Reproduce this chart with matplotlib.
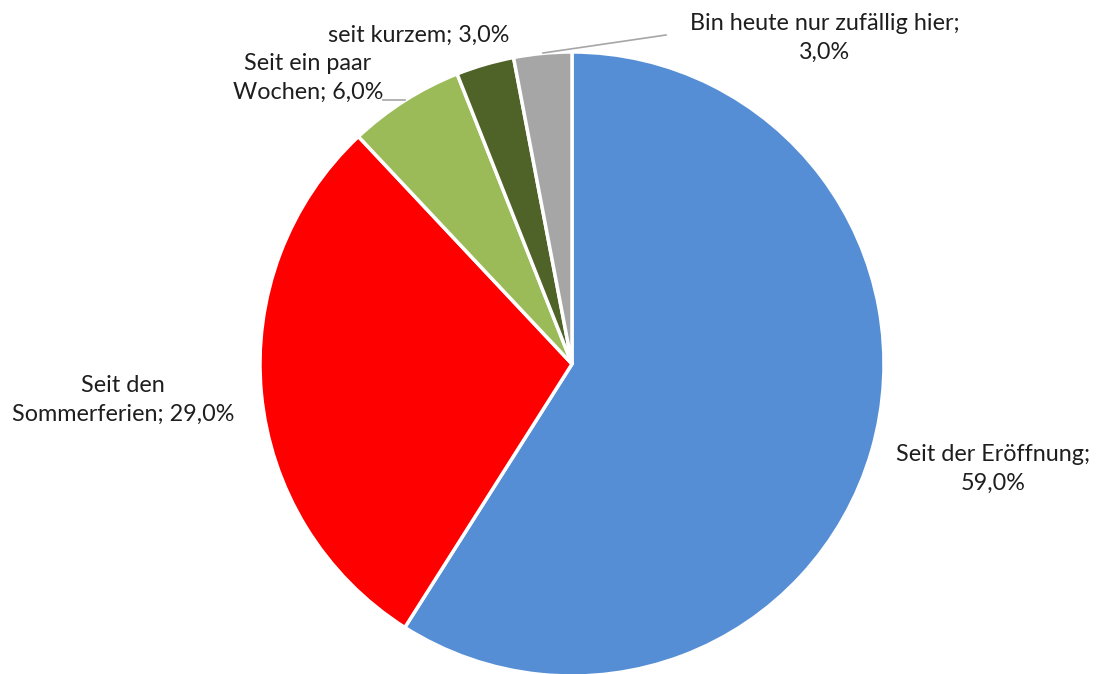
import matplotlib.pyplot as plt

# Antworten auf "Seit wann kommen Sie?"
labels = ["Seit der Eröffnung", "Seit den Sommerferien", "Seit ein paar Wochen",
          "seit kurzem", "Bin heute nur zufällig hier"]
shares = [59.0, 29.0, 6.0, 3.0, 3.0]
colors = ["#558ED5", "#FF0000", "#9BBB59", "#4F6228", "#A6A6A6"]

W, H = 1098, 674
plt.rcParams['font.family'] = ['Lato', 'DejaVu Sans']

fig = plt.figure(figsize=(W / 100, H / 100), dpi=100)
ax = fig.add_axes([0, 0, 1, 1])

ax.pie(shares, colors=colors, startangle=90, counterclock=False,
       center=(572, H - 364), radius=312,
       wedgeprops=dict(edgecolor='white', linewidth=2.5))
ax.set_xlim(0, W)
ax.set_ylim(0, H)
ax.set_aspect('equal')
ax.axis('off')

def pct(v):
    return f"{v:.1f}".replace('.', ',') + "%"

fs = 16.8
tc = "#1e1e1e"
ls = 1.45
# Beschriftungen (Position in Pixeln, y von oben)
ax.text(993, H - 469, f"{labels[0]};\n{pct(shares[0])}", ha='center', va='center',
        fontsize=fs, color=tc, linespacing=ls)
ax.text(123, H - 400, "Seit den\nSommerferien; " + pct(shares[1]), ha='center', va='center',
        fontsize=fs, color=tc, linespacing=ls)
ax.text(308, H - 78, "Seit ein paar\nWochen; " + pct(shares[2]), ha='center', va='center',
        fontsize=fs, color=tc, linespacing=ls)
ax.text(419, H - 35, f"{labels[3]}; {pct(shares[3])}", ha='center', va='center',
        fontsize=fs, color=tc)
ax.text(825, H - 38, f"{labels[4]};\n{pct(shares[4])}", ha='center', va='center',
        fontsize=fs, color=tc, linespacing=ls)

# Führungslinien
ax.plot([383, 405], [H - 100, H - 100], color="#A6A6A6", lw=1.2)
ax.plot([666, 543], [H - 35, H - 53], color="#A6A6A6", lw=1.2)

fig.savefig("out.png", dpi=100)
